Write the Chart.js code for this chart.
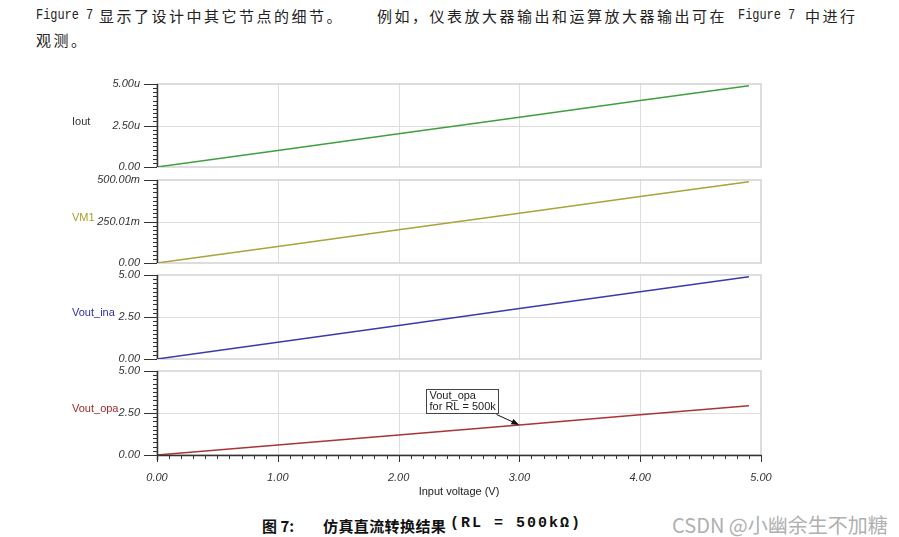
<!DOCTYPE html>
<html><head><meta charset="utf-8">
<script src="https://cdn.jsdelivr.net/npm/chart.js@4"></script>
<style>
body{margin:0;background:#fff;width:899px;height:537px;overflow:hidden;position:relative}
canvas{position:absolute;left:0;top:0}
.t{position:absolute;white-space:nowrap;color:#222;line-height:1}
.cjk{font-family:"Noto Sans CJK SC",sans-serif;font-size:15px;letter-spacing:2.5px}
.mono{font-family:"Liberation Mono",monospace;font-size:14.5px;transform:scaleX(0.82);transform-origin:0 0}
</style></head><body>
<div class="t mono" style="left:36px;top:8px">Figure 7</div>
<div class="t cjk" style="left:99px;top:8px">显示了设计中其它节点的细节。</div>
<div class="t cjk" style="left:377px;top:8px">例如，仪表放大器输出和运算放大器输出可在</div>
<div class="t mono" style="left:738px;top:8px">Figure 7</div>
<div class="t cjk" style="left:805px;top:8px">中进行</div>
<div class="t cjk" style="left:36px;top:32px">观测。</div>

<div class="t" style="left:262px;top:515px;font:bold 15px 'Noto Sans CJK SC';color:#111">图 7:</div>
<div class="t" style="left:323px;top:515px;font:bold 15px 'Noto Sans CJK SC';color:#111;letter-spacing:0.4px">仿真直流转换结果</div>
<div class="t" style="left:450px;top:515px;font:bold 15px 'Liberation Mono';color:#111;letter-spacing:2px">(RL = 500kΩ)</div>
<div class="t" style="left:672px;top:510px;font:20px 'Noto Sans CJK SC';color:#b0b0b0">CSDN @小幽余生不加糖</div>

<canvas id="c1" width="899" height="537"></canvas>
<canvas id="c2" width="899" height="537"></canvas>
<canvas id="c3" width="899" height="537"></canvas>
<canvas id="c4" width="899" height="537"></canvas>
<script>
// ---- data ----
const xValues        = [0, 1, 2, 3, 4, 4.9];          // Input voltage (V)
const ioutValues     = [0, 1, 2, 3, 4, 4.9];          // Iout (uA)
const vm1Values      = [0, 0.1, 0.2, 0.3, 0.4, 0.49]; // VM1 (V)
const voutInaValues  = [0, 1, 2, 3, 4, 4.9];          // Vout_ina (V)
const voutOpaValues  = [0, 0.6, 1.19, 1.79, 2.39, 2.93]; // Vout_opa (V)

const xTickLabels        = ["0.00","1.00","2.00","3.00","4.00","5.00"];
const ioutTickLabels     = ["0.00","2.50u","5.00u"];
const vm1TickLabels      = ["0.00","250.01m","500.00m"];
const voutInaTickLabels  = ["0.00","2.50","5.00"];
const voutOpaTickLabels  = ["0.00","2.50","5.00"];

const seriesNames = ["Iout","VM1","Vout_ina","Vout_opa"];
const xTitle = "Input voltage (V)";
const annotationLines = ["Vout_opa","for RL = 500k"];
const annotationX = 3;

// ---- presentation ----
const FONT = "'Liberation Sans', Arial, sans-serif";
const panels = [
  {name:seriesNames[0], values:ioutValues,    ticks:ioutTickLabels,    max:5,   color:'#3f9f3f', label:'#333333', top:84,  bottom:167},
  {name:seriesNames[1], values:vm1Values,     ticks:vm1TickLabels,     max:0.5, color:'#aaa23a', label:'#a89e2a', top:180, bottom:263},
  {name:seriesNames[2], values:voutInaValues, ticks:voutInaTickLabels, max:5,   color:'#3a3aaa', label:'#2e2ea0', top:275, bottom:359},
  {name:seriesNames[3], values:voutOpaValues, ticks:voutOpaTickLabels, max:5,   color:'#a83434', label:'#a02c2c', top:371, bottom:455}
];
const XAXIS_H = 45;

function panelPlugin(p, isBottom){
  return {
    id:'panel',
    beforeDatasetsDraw(chart){
      const {ctx, chartArea:a, scales:{x,y}} = chart;
      ctx.save();
      ctx.strokeStyle = '#dddddd'; ctx.lineWidth = 1;
      xTickLabels.map(Number).forEach(v=>{
        if (v<=x.min || v>=x.max) return;
        const px = Math.round(x.getPixelForValue(v))+0.5;
        ctx.beginPath(); ctx.moveTo(px,a.top); ctx.lineTo(px,a.bottom); ctx.stroke();
      });
      y.ticks.forEach(t=>{
        if (t.value<=y.min || t.value>=y.max) return;
        const py = Math.round(y.getPixelForValue(t.value))+0.5;
        ctx.beginPath(); ctx.moveTo(a.left,py); ctx.lineTo(a.right,py); ctx.stroke();
      });
      ctx.strokeStyle = '#d2d2d2'; ctx.lineWidth = 1.5;
      ctx.strokeRect(a.left, a.top, a.right-a.left, a.bottom-a.top);
      ctx.restore();
    },
    afterDatasetsDraw(chart){
      const {ctx, chartArea:a, scales:{x,y}} = chart;
      ctx.save();
      ctx.strokeStyle = '#333';
      ctx.lineWidth = 1.5;
      const lx = Math.round(a.left)+0.5;
      ctx.beginPath(); ctx.moveTo(lx, a.top); ctx.lineTo(lx, a.bottom + (isBottom?5:0)); ctx.stroke();
      ctx.lineWidth = 1;
      y.ticks.forEach(t=>{
        const py = Math.round(y.getPixelForValue(t.value))+0.5;
        ctx.beginPath(); ctx.moveTo(a.left-13,py); ctx.lineTo(a.left,py); ctx.stroke();
      });
      const step = y.max/20;
      for (let k=1;k<20;k++){
        if (k%10===0) continue;
        const py = Math.round(y.getPixelForValue(k*step))+0.5;
        ctx.beginPath(); ctx.moveTo(a.left-4,py); ctx.lineTo(a.left+1,py); ctx.stroke();
      }
      if (isBottom){
        ctx.lineWidth = 1.5;
        const by = Math.round(a.bottom)+0.5;
        ctx.beginPath(); ctx.moveTo(a.left, by); ctx.lineTo(a.right, by); ctx.stroke();
        ctx.lineWidth = 1;
        xTickLabels.map(Number).forEach(v=>{
          const px = Math.round(x.getPixelForValue(v))+0.5;
          ctx.beginPath(); ctx.moveTo(px,a.bottom); ctx.lineTo(px,a.bottom+7); ctx.stroke();
        });
        for (let k=1;k<50;k++){
          if (k%10===0) continue;
          const px = Math.round(x.getPixelForValue(k*0.1))+0.5;
          ctx.beginPath(); ctx.moveTo(px,a.bottom); ctx.lineTo(px,a.bottom+4); ctx.stroke();
        }
        // annotation
        const idx = xValues.indexOf(annotationX);
        const ptx = x.getPixelForValue(annotationX), pty = y.getPixelForValue(p.values[idx]);
        const bx = Math.round(ptx-93)+0.5, bw = 72, bh = 24, byy = Math.round(pty-36)+0.5;
        ctx.fillStyle = '#fff'; ctx.fillRect(bx,byy,bw,bh);
        ctx.strokeStyle = '#444'; ctx.strokeRect(bx,byy,bw,bh);
        ctx.fillStyle = '#222'; ctx.font = '11px '+FONT; ctx.textBaseline='middle'; ctx.textAlign='left';
        annotationLines.forEach((s,i)=> ctx.fillText(s, bx+3, byy+6.5+i*11));
        const sx = bx+bw-2, sy = byy+bh+1;
        const ang = Math.atan2(pty-sy, ptx-sx);
        ctx.strokeStyle='#111'; ctx.fillStyle='#111'; ctx.lineWidth=1;
        ctx.beginPath(); ctx.moveTo(sx,sy); ctx.lineTo(ptx-4*Math.cos(ang),pty-4*Math.sin(ang)); ctx.stroke();
        ctx.beginPath();
        ctx.moveTo(ptx,pty);
        ctx.lineTo(ptx-8*Math.cos(ang)+3*Math.sin(ang), pty-8*Math.sin(ang)-3*Math.cos(ang));
        ctx.lineTo(ptx-8*Math.cos(ang)-3*Math.sin(ang), pty-8*Math.sin(ang)+3*Math.cos(ang));
        ctx.closePath(); ctx.fill();
      }
      ctx.fillStyle = p.label; ctx.font = '11px '+FONT; ctx.textAlign='left'; ctx.textBaseline='middle';
      ctx.fillText(p.name, 72, (a.top+a.bottom)/2-4);
      ctx.restore();
    }
  };
}

panels.forEach((p,i)=>{
  const isBottom = i===panels.length-1;
  const xScale = {type:'linear', min:0, max:5, display:isBottom,
    grid:{display:false, drawTicks:false}, border:{display:false},
    ticks:{stepSize:1, autoSkip:false, maxRotation:0, padding:16,
           font:{family:FONT,size:11,style:'italic'}, color:'#333',
           callback:(v,k)=>xTickLabels[k]},
    title:{display:true, text:xTitle, font:{family:FONT,size:11}, color:'#222', padding:{top:0,bottom:1}}};
  if (isBottom) xScale.afterFit = s=>{s.height=XAXIS_H;};
  new Chart(document.getElementById('c'+(i+1)), {
    type:'line',
    data:{datasets:[{
      data: xValues.map((xv,j)=>({x:xv, y:p.values[j]})),
      borderColor:p.color, borderWidth:1.5, pointRadius:0, tension:0, fill:false
    }]},
    options:{
      responsive:false, animation:false, devicePixelRatio:1,
      layout:{padding:{left:57, right:138, top:p.top, bottom: isBottom ? 537-p.bottom-XAXIS_H : 537-p.bottom}},
      plugins:{legend:{display:false}, tooltip:{enabled:false}},
      scales:{
        x:xScale,
        y:{type:'linear', min:0, max:p.max,
           afterFit:s=>{s.width=100;},
           grid:{display:false, drawTicks:false}, border:{display:false},
           ticks:{stepSize:p.max/2, autoSkip:false, padding:17,
                  font:{family:FONT,size:11,style:'italic'}, color:'#333',
                  callback:(v,k)=>p.ticks[k]}}
      }
    },
    plugins:[panelPlugin(p,isBottom)]
  });
});
</script>
</body></html>
